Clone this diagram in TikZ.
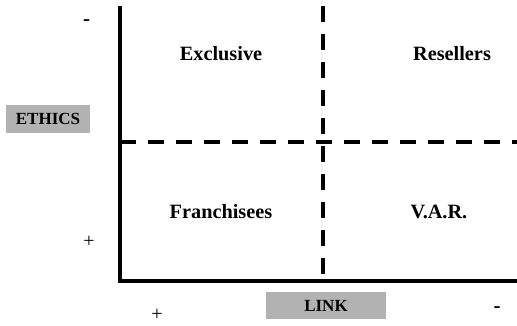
\documentclass[tikz,border=0pt]{standalone}
\usepackage{fontspec}
\setmainfont{Liberation Serif}
\begin{document}
\definecolor{labelgray}{RGB}{178,178,178}
\begin{tikzpicture}[x=1pt,y=-1pt,
  axis/.style={line width=4pt},
  divider/.style={line width=4pt,dash pattern=on 16pt off 12pt},
  quadrant/.style={font=\fontsize{20.3}{24}\selectfont\bfseries},
  axislabel/.style={fill=labelgray,font=\fontsize{17}{20}\selectfont\bfseries,
    inner sep=0pt,anchor=center},
  sign/.style={font=\fontsize{20}{24}\selectfont},
  dashsign/.style={font=\fontsize{21}{24}\selectfont\bfseries}]
  \useasboundingbox (0,0) rectangle (517,325);
  % axis end points and divider end points
  \coordinate (ytop) at (120,8);
  \coordinate (origin) at (120,281);
  \coordinate (xend) at (517,281);
  \coordinate (vtop) at (323,6);
  \coordinate (vbot) at (323,281);
  \coordinate (hleft) at (120,142);
  \coordinate (hright) at (517,142);
  % dashed dividers
  \draw[divider] (hleft) -- (hright);
  \draw[divider] (vtop) -- (vbot);
  % axes
  \draw[axis,line cap=rect] (ytop) -- (origin) -- (xend);
  % quadrant labels
  \node[quadrant] (excl) at (221,54) {Exclusive};
  \node[quadrant] (resel) at (452,54) {Resellers};
  \node[quadrant] (franch) at (221,212) {Franchisees};
  \node[quadrant] (var) at (439,212) {V.A.R.};
  % axis labels
  \node[axislabel,minimum width=84pt,minimum height=28pt] (ethics) at (48,119) {ETHICS};
  \node[axislabel,minimum width=120pt,minimum height=27pt] (link) at (326,305.5) {LINK};
  % scale ends
  \node[dashsign] (ethminus) at (86.5,23) {-};
  \node[sign] (ethplus) at (89,242) {+};
  \node[sign] (linkplus) at (157,315) {+};
  \node[dashsign] (linkminus) at (497,310) {-};
\end{tikzpicture}
\end{document}
